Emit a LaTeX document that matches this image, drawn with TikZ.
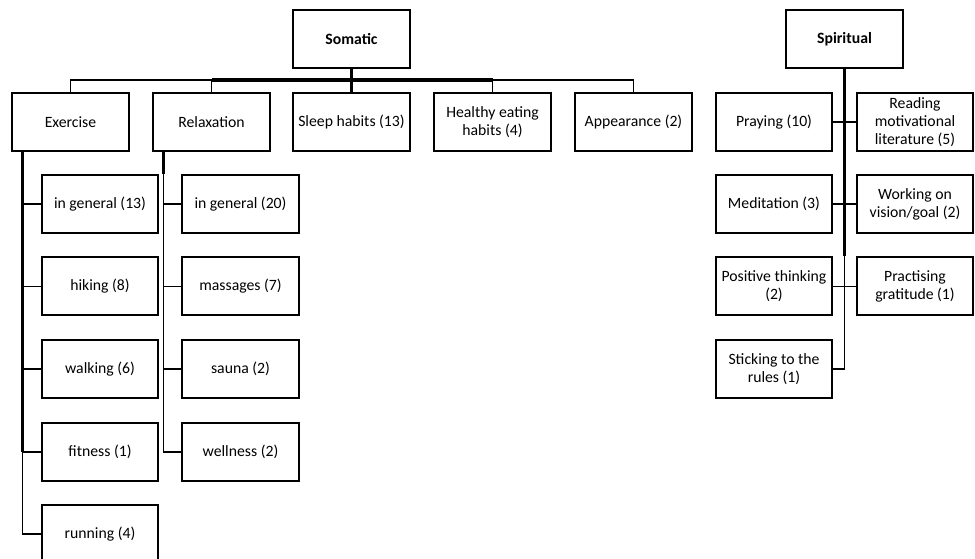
\documentclass[tikz,border=0pt]{standalone}
\usepackage{fontspec}
\setmainfont{Carlito}
\newcommand{\lblfont}{\fontsize{11.8}{13.4}\selectfont}
\tikzset{
  box/.style={draw, line width=1.5pt, minimum width=87.5pt, minimum height=43.5pt,
              inner sep=0pt, align=center, font=\lblfont},
  head/.style={box, font=\lblfont\bfseries},
  conn/.style={line width=1.1pt},
  trunk/.style={line width=2.3pt},
}
\begin{document}
\begin{tikzpicture}[x=0.75pt,y=-0.75pt]
\useasboundingbox (0,0) rectangle (975,559);

% top-level categories
\node[head] (som) at (351.5,39) {Somatic};
\node[head] (spi) at (844.5,39) {Spiritual};

% somatic, first level
\node[box] (ex)   at (70.5,122)  {Exercise};
\node[box] (rel)  at (211.5,122) {Relaxation};
\node[box] (slp)  at (351.5,122) {Sleep habits (13)};
\node[box] (eat)  at (492.5,122) {Healthy eating\\habits (4)};
\node[box] (app)  at (633.5,122) {Appearance (2)};

% exercise items
\node[box] (ex1) at (100,204)   {in general (13)};
\node[box] (ex2) at (100,286.5) {hiking (8)};
\node[box] (ex3) at (100,369)   {walking (6)};
\node[box] (ex4) at (100,452)   {fitness (1)};
\node[box] (ex5) at (100,534)   {running (4)};

% relaxation items
\node[box] (re1) at (240.5,204)   {in general (20)};
\node[box] (re2) at (240.5,286.5) {massages (7)};
\node[box] (re3) at (240.5,369)   {sauna (2)};
\node[box] (re4) at (240.5,452)   {wellness (2)};

% spiritual items
\node[box] (sp1) at (774,122)   {Praying (10)};
\node[box] (sp2) at (915,122)   {Reading\\motivational\\literature (5)};
\node[box] (sp3) at (774,204)   {Meditation (3)};
\node[box] (sp4) at (915,204)   {Working on\\vision/goal (2)};
\node[box] (sp5) at (774,286.5) {Positive thinking\\(2)};
\node[box] (sp6) at (915,286.5) {Practising\\gratitude (1)};
\node[box] (sp7) at (774,369)   {Sticking to the\\rules (1)};

% somatic bus
\coordinate (bus) at (351.5,80);
\draw[trunk] (som.south) -- (slp.north);
\draw[trunk] (rel.north |- bus) -- (eat.north |- bus);
\draw[conn] (ex.north) -- (ex.north |- bus) -- (rel.north |- bus) -- (rel.north);
\draw[conn] (eat.north) -- (eat.north |- bus) -- (app.north |- bus) -- (app.north);

% exercise trunk
\coordinate (et) at ([xshift=8.6pt]ex.south west);
\draw[trunk] (et) -- (et |- ex4.west);
\draw[conn] (et |- ex4.west) -- (et |- ex5.west) -- (ex5.west);
\foreach \c in {ex1,ex2,ex3,ex4}
  \draw[conn] (et |- \c.west) -- (\c.west);

% relaxation trunk
\coordinate (rt) at ([xshift=8.6pt]rel.south west);
\draw[trunk] (rt) -- (rt |- re1.north);
\draw[conn] (rt |- re1.north) -- (rt |- re4.west) -- (re4.west);
\foreach \c in {re1,re2,re3}
  \draw[conn] (rt |- \c.west) -- (\c.west);

% spiritual trunk
\draw[trunk] (spi.south) -- (spi.south |- sp5.north);
\draw[conn] (spi.south |- sp5.north) -- (spi.south |- sp7.east) -- (sp7.east);
\draw[conn] (sp1.east) -- (sp2.west);
\draw[conn] (sp3.east) -- (sp4.west);
\draw[conn] (sp5.east) -- (sp6.west);
\end{tikzpicture}
\end{document}
